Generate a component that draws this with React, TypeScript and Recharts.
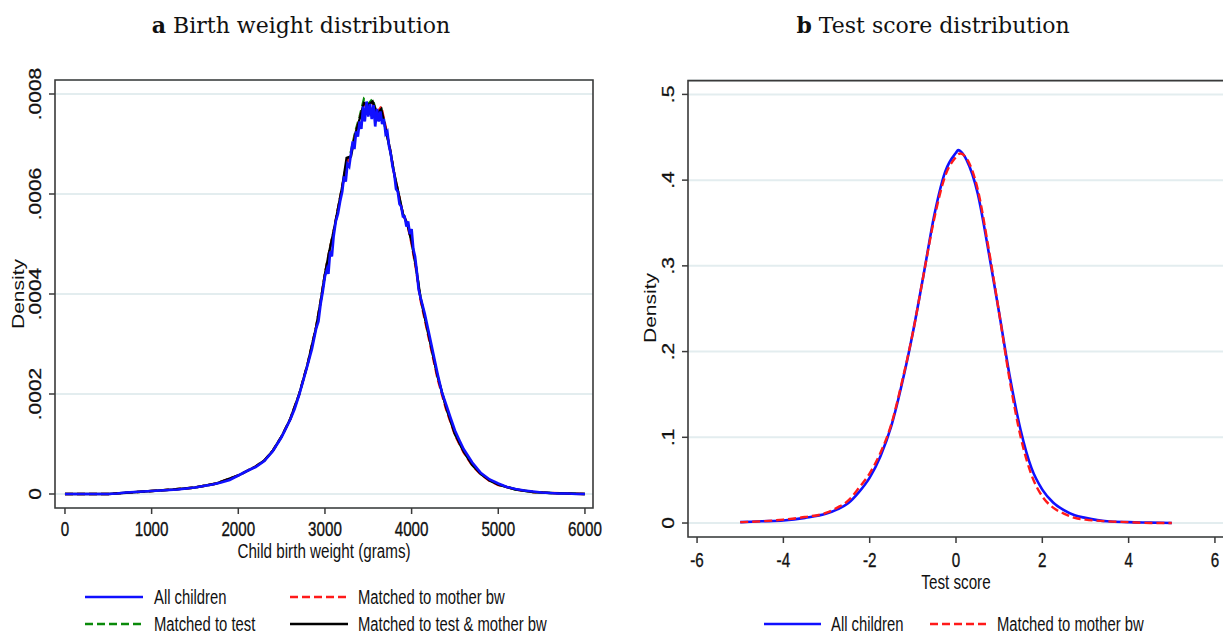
import React from "react";
import {
  LineChart,
  Line,
  XAxis,
  YAxis,
  CartesianGrid,
  ReferenceArea,
} from "recharts";

// panel a: birth weight (grams) / density in units of 1e-4
const bwAllX = [
  0, 100, 200, 300, 400, 500, 600, 700, 800, 900, 1000, 1100, 1200, 1300, 1400,
  1500, 1600, 1700, 1800, 1900, 2000, 2100, 2200, 2300, 2400, 2500, 2600, 2650,
  2700, 2750, 2800, 2850, 2900, 2925, 2950, 2975, 3000, 3025, 3040, 3060, 3080,
  3100, 3125, 3150, 3175, 3200, 3220, 3240, 3260, 3280, 3300, 3320, 3340, 3360,
  3380, 3400, 3420, 3440, 3460, 3480, 3500, 3520, 3540, 3560, 3580, 3600, 3620,
  3640, 3660, 3680, 3700, 3720, 3740, 3760, 3780, 3800, 3820, 3840, 3860, 3880,
  3900, 3920, 3940, 3960, 3980, 4000, 4020, 4040, 4060, 4080, 4100, 4150, 4200,
  4250, 4300, 4350, 4400, 4450, 4500, 4550, 4600, 4700, 4800, 4900, 5000, 5100,
  5200, 5300, 5400, 5500, 5600, 5700, 5800, 5900, 6000,
];
const bwAllChildren = [
  0, 0, 0, 0, 0, 0, 0.01, 0.03, 0.04, 0.05, 0.06, 0.07, 0.08, 0.09, 0.11, 0.13,
  0.16, 0.19, 0.23, 0.28, 0.37, 0.46, 0.54, 0.66, 0.86, 1.14, 1.49, 1.7, 1.97,
  2.27, 2.58, 2.9, 3.32, 3.45, 3.8, 4.05, 4.35, 4.5, 4.4, 4.85, 4.75, 5.15, 5.45,
  5.6, 5.85, 6.05, 6.35, 6.25, 6.6, 6.55, 6.8, 7.05, 6.9, 7.25, 7.15, 7.45, 7.3,
  7.75, 7.45, 7.85, 7.55, 7.8, 7.5, 7.78, 7.35, 7.7, 7.45, 7.65, 7.4, 7.5, 7.2,
  7.25, 6.95, 6.8, 6.55, 6.4, 6.1, 6.05, 5.8, 5.75, 5.55, 5.55, 5.35, 5.45, 5.2,
  5.3, 4.9, 4.75, 4.45, 4.1, 3.95, 3.62, 3.22, 2.81, 2.4, 2.03, 1.78, 1.52, 1.27,
  1.08, 0.9, 0.63, 0.42, 0.29, 0.21, 0.14, 0.1, 0.07, 0.05, 0.03, 0.02, 0.01,
  0.01, 0, 0,
];

const bwMatchX = [
  0, 250, 500, 750, 1000, 1250, 1500, 1750, 2000, 2100, 2200, 2300, 2400, 2500,
  2600, 2700, 2800, 2900, 2950, 3000, 3050, 3100, 3150, 3200, 3250, 3300, 3350,
  3400, 3450, 3500, 3550, 3600, 3650, 3700, 3750, 3800, 3850, 3900, 3950, 4000,
  4050, 4100, 4150, 4200, 4300, 4400, 4500, 4600, 4700, 4800, 4900, 5000, 5200,
  5400, 5600, 5800, 6000,
];
const bwMatchedTest = [
  0, 0, 0, 0.03, 0.06, 0.09, 0.13, 0.21, 0.37, 0.46, 0.55, 0.67, 0.87, 1.15, 1.5,
  1.98, 2.6, 3.35, 3.85, 4.4, 4.85, 5.25, 5.7, 6.15, 6.62, 6.85, 7.25, 7.55, 7.9,
  7.8, 7.9, 7.6, 7.7, 7.3, 6.9, 6.4, 6.0, 5.6, 5.4, 5.05, 4.55, 3.95, 3.55, 3.15,
  2.35, 1.72, 1.2, 0.85, 0.58, 0.4, 0.27, 0.19, 0.09, 0.04, 0.02, 0.01, 0,
];
const bwMatchedMother = [
  0, 0, 0, 0.03, 0.06, 0.09, 0.13, 0.21, 0.37, 0.46, 0.55, 0.67, 0.87, 1.15, 1.5,
  1.98, 2.6, 3.35, 3.85, 4.4, 4.85, 5.25, 5.7, 6.15, 6.6, 6.8, 7.2, 7.5, 7.8,
  7.75, 7.82, 7.62, 7.75, 7.35, 6.9, 6.4, 6.0, 5.6, 5.4, 5.0, 4.5, 3.9, 3.5, 3.1,
  2.3, 1.68, 1.18, 0.83, 0.57, 0.39, 0.26, 0.18, 0.09, 0.04, 0.02, 0.01, 0,
];
const bwMatchedBoth = [
  0, 0, 0, 0.03, 0.06, 0.09, 0.13, 0.21, 0.37, 0.46, 0.55, 0.67, 0.87, 1.15, 1.5,
  1.98, 2.6, 3.35, 3.85, 4.4, 4.85, 5.25, 5.7, 6.15, 6.72, 6.75, 7.2, 7.5, 7.82,
  7.78, 7.85, 7.6, 7.7, 7.3, 6.9, 6.4, 6.0, 5.6, 5.4, 5.05, 4.55, 3.95, 3.55,
  3.15, 2.35, 1.72, 1.2, 0.85, 0.58, 0.4, 0.27, 0.19, 0.09, 0.04, 0.02, 0.01, 0,
];
const bwTicksX = [0, 1000, 2000, 3000, 4000, 5000, 6000];
const bwTicksY = [0, 0.0002, 0.0004, 0.0006, 0.0008];

// panel b: standardised test score / density
const tsX = [
  -5, -4.5, -4, -3.5, -3, -2.75, -2.5, -2.25, -2, -1.75, -1.5, -1.25, -1, -0.75,
  -0.5, -0.25, 0, 0.05, 0.1, 0.25, 0.5, 0.75, 1, 1.25, 1.5, 1.75, 2, 2.25, 2.5,
  2.75, 3, 3.5, 4, 4.5, 5,
];
const tsAllChildren = [
  0.001, 0.002, 0.003, 0.006, 0.011, 0.016, 0.023, 0.036, 0.053, 0.078, 0.113,
  0.163, 0.222, 0.29, 0.36, 0.41, 0.432, 0.435, 0.434, 0.423, 0.385, 0.318,
  0.245, 0.17, 0.108, 0.064, 0.039, 0.024, 0.015, 0.009, 0.006, 0.002, 0.001,
  0.0005, 0,
];
const tsMatchedMother = [
  0.001, 0.002, 0.004, 0.007, 0.012, 0.018, 0.026, 0.041, 0.058, 0.082, 0.115,
  0.165, 0.222, 0.29, 0.356, 0.405, 0.427, 0.43, 0.431, 0.425, 0.39, 0.322,
  0.245, 0.165, 0.1, 0.056, 0.031, 0.018, 0.011, 0.006, 0.004, 0.002, 0.001, 0,
  0,
];
const tsTicksX = [-6, -4, -2, 0, 2, 4, 6];
const tsTicksY = [0, 0.1, 0.2, 0.3, 0.4, 0.5];

const bwAllData = bwAllX.map((x, i) => ({ x, v: bwAllChildren[i] * 1e-4 }));
const bwMatchData = bwMatchX.map((x, i) => ({
  x,
  test: bwMatchedTest[i] * 1e-4,
  mother: bwMatchedMother[i] * 1e-4,
  both: bwMatchedBoth[i] * 1e-4,
}));
const tsData = tsX.map((x, i) => ({
  x,
  all: tsAllChildren[i],
  mother: tsMatchedMother[i],
}));

const SANS = "'Liberation Sans', Arial, sans-serif";
const SQ = 0.76; // the figure is squeezed horizontally
const BLUE = "#1010ff";
const RED = "#ff1a1a";
const GREEN = "#0a8a0a";
const GRID = "#e3edef";
const FRAME = "#3a3a3a";

const fmt = (v: number) => (v === 0 ? "0" : String(v).replace(/^(-?)0\./, "$1."));

const XTick = ({ x, y, payload, dy }: any) => (
  <text
    transform={`translate(${x},${y + dy}) scale(${SQ},1)`}
    textAnchor="middle"
    dominantBaseline="central"
    fontSize={20}
    fontFamily={SANS}
    fill="#111"
    stroke="#111"
    strokeWidth={0.35}
  >
    {fmt(payload.value)}
  </text>
);

const YTick = ({ x, y, payload, dx }: any) => (
  <text
    transform={`translate(${x + dx},${y}) scale(${SQ},1) rotate(-90)`}
    textAnchor="middle"
    dominantBaseline="central"
    fontSize={21}
    fontFamily={SANS}
    fill="#111"
    stroke="#111"
    strokeWidth={0.35}
  >
    {fmt(payload.value)}
  </text>
);

const Label = ({ x, y, text, rotate = false, size = 20 }: any) => (
  <div
    style={{
      position: "absolute",
      left: x,
      top: y,
      transform: rotate
        ? `translate(-50%,-50%) scaleX(${SQ}) rotate(-90deg)`
        : `translate(-50%,-50%) scaleX(${SQ})`,
      whiteSpace: "nowrap",
      fontFamily: SANS,
      fontSize: size,
      lineHeight: "14px",
      color: "#111",
    }}
  >
    {text}
  </div>
);

const Title = ({ x, letter, text }: any) => (
  <div
    style={{
      position: "absolute",
      left: x,
      top: 25,
      transform: "translate(-50%,-50%)",
      whiteSpace: "nowrap",
      fontFamily: "'DejaVu Serif', serif",
      fontSize: 22,
      lineHeight: "26px",
      color: "#111",
    }}
  >
    <b>{letter}</b> {text}
  </div>
);

const LegendItem = ({ x1, x2, tx, y, color, dash, text }: any) => (
  <>
    <svg
      style={{ position: "absolute", left: x1, top: y - 4 }}
      width={x2 - x1}
      height={8}
    >
      <line
        x1={0}
        x2={x2 - x1}
        y1={4}
        y2={4}
        stroke={color}
        strokeWidth={2.6}
        strokeDasharray={dash}
      />
    </svg>
    <div
      style={{
        position: "absolute",
        left: tx,
        top: y,
        transform: `translateY(-50%) scaleX(${SQ})`,
        transformOrigin: "left center",
        whiteSpace: "nowrap",
        fontFamily: SANS,
        fontSize: 19.5,
        lineHeight: "14px",
        color: "#111",
      }}
    >
      {text}
    </div>
  </>
);

const BW_DOMAIN_X: [number, number] = [-115, 6093];
const BW_DOMAIN_Y: [number, number] = [-0.000028, 0.000828];
const TS_DOMAIN_X: [number, number] = [-6.21, 6.21];
const TS_DOMAIN_Y: [number, number] = [-0.0163, 0.5161];

const BirthWeightPanel = () => (
  <div style={{ position: "absolute", left: 0, top: 0 }}>
    <LineChart
      width={610}
      height={545}
      data={bwMatchData}
      margin={{ top: 80, right: 17, bottom: 7, left: 10 }}
    >
      <CartesianGrid
        horizontal
        vertical={false}
        stroke={GRID}
        strokeWidth={2}
      />
      <ReferenceArea
        x1={BW_DOMAIN_X[0]}
        x2={BW_DOMAIN_X[1]}
        y1={BW_DOMAIN_Y[0]}
        y2={BW_DOMAIN_Y[1]}
        fill="none"
        stroke={FRAME}
        strokeWidth={1.6}
        ifOverflow="visible"
      />
      <XAxis
        dataKey="x"
        type="number"
        domain={BW_DOMAIN_X}
        ticks={bwTicksX}
        allowDataOverflow
        height={30}
        axisLine={false}
        tickLine={{ stroke: FRAME, strokeWidth: 1.5 }}
        tickSize={6}
        tick={(p: any) => <XTick {...p} dy={13} />}
        interval={0}
      />
      <YAxis
        type="number"
        domain={BW_DOMAIN_Y}
        ticks={bwTicksY}
        allowDataOverflow
        width={45}
        axisLine={false}
        tickLine={{ stroke: FRAME, strokeWidth: 1.5 }}
        tickSize={6}
        tick={(p: any) => <YTick {...p} dx={-12} />}
        interval={0}
      />
      <Line
        dataKey="test"
        stroke={GREEN}
        strokeWidth={2.4}
        strokeDasharray="8 4"
        dot={false}
        isAnimationActive={false}
      />
      <Line
        dataKey="mother"
        stroke={RED}
        strokeWidth={2.4}
        strokeDasharray="8 4"
        dot={false}
        isAnimationActive={false}
      />
      <Line
        dataKey="both"
        stroke="#000"
        strokeWidth={2.4}
        dot={false}
        isAnimationActive={false}
      />
      <Line
        data={bwAllData}
        dataKey="v"
        stroke={BLUE}
        strokeWidth={2.6}
        dot={false}
        isAnimationActive={false}
      />
    </LineChart>
  </div>
);

const TestScorePanel = () => (
  <div style={{ position: "absolute", left: 620, top: 0 }}>
    <LineChart
      width={620}
      height={575}
      data={tsData}
      margin={{ top: 80.6, right: 16, bottom: 8, left: 23 }}
    >
      <CartesianGrid
        horizontal
        vertical={false}
        stroke={GRID}
        strokeWidth={2}
      />
      <ReferenceArea
        x1={TS_DOMAIN_X[0]}
        x2={TS_DOMAIN_X[1]}
        y1={TS_DOMAIN_Y[0]}
        y2={TS_DOMAIN_Y[1]}
        fill="none"
        stroke={FRAME}
        strokeWidth={1.6}
        ifOverflow="visible"
      />
      <XAxis
        dataKey="x"
        type="number"
        domain={TS_DOMAIN_X}
        ticks={tsTicksX}
        allowDataOverflow
        height={30}
        axisLine={false}
        tickLine={{ stroke: FRAME, strokeWidth: 1.5 }}
        tickSize={6}
        tick={(p: any) => <XTick {...p} dy={15} />}
        interval={0}
      />
      <YAxis
        type="number"
        domain={TS_DOMAIN_Y}
        ticks={tsTicksY}
        allowDataOverflow
        width={45}
        axisLine={false}
        tickLine={{ stroke: FRAME, strokeWidth: 1.5 }}
        tickSize={6}
        tick={(p: any) => <YTick {...p} dx={-12} />}
        interval={0}
      />
      <Line
        type="monotone"
        dataKey="all"
        stroke={BLUE}
        strokeWidth={2.6}
        dot={false}
        isAnimationActive={false}
      />
      <Line
        type="monotone"
        dataKey="mother"
        stroke={RED}
        strokeWidth={2.4}
        strokeDasharray="8 4"
        dot={false}
        isAnimationActive={false}
      />
    </LineChart>
  </div>
);

export default function App() {
  return (
    <div
      style={{
        position: "absolute",
        left: 0,
        top: 0,
        width: 1223,
        height: 635,
        overflow: "hidden",
        background: "#fff",
      }}
    >
      <Title x={301} letter="a" text="Birth weight distribution" />
      <Title x={933} letter="b" text="Test score distribution" />

      <BirthWeightPanel />
      <TestScorePanel />

      <Label x={19} y={294} text="Density" rotate size={21} />
      <Label x={651} y={308} text="Density" rotate size={21} />
      <Label x={324} y={551} text="Child birth weight (grams)" />
      <Label x={956} y={582} text="Test score" />

      <LegendItem x1={85} x2={143} tx={154} y={597} color={BLUE} text="All children" />
      <LegendItem x1={290} x2={348} tx={358} y={597} color={RED} dash="8 4" text="Matched to mother bw" />
      <LegendItem x1={85} x2={143} tx={154} y={624} color={GREEN} dash="8 4" text="Matched to test" />
      <LegendItem x1={290} x2={348} tx={358} y={624} color="#000" text="Matched to test & mother bw" />

      <LegendItem x1={764} x2={821} tx={831} y={624} color={BLUE} text="All children" />
      <LegendItem x1={930} x2={989} tx={997} y={624} color={RED} dash="8 4" text="Matched to mother bw" />
    </div>
  );
}
